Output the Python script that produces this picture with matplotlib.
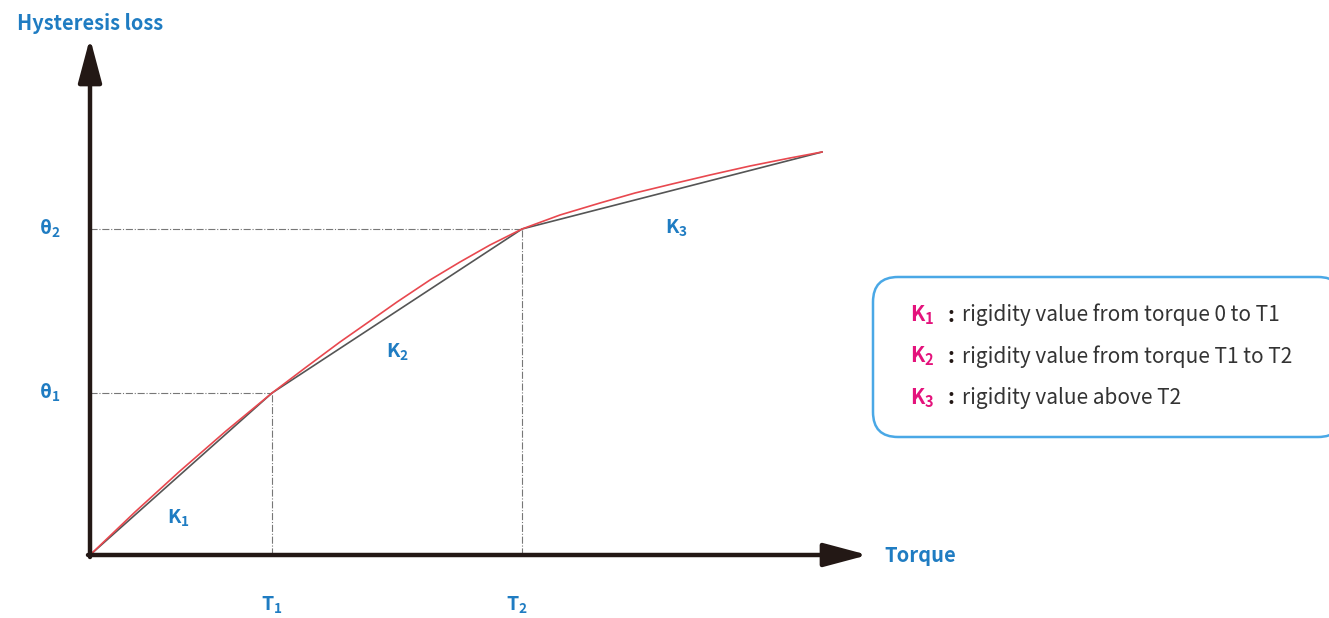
import matplotlib.pyplot as plt
from matplotlib.patches import FancyBboxPatch

plt.rcParams['font.family'] = ['Noto Sans CJK JP', 'DejaVu Sans']
plt.rcParams['mathtext.fontset'] = 'custom'
plt.rcParams['mathtext.rm'] = 'Noto Sans CJK JP'
plt.rcParams['mathtext.bf'] = 'Noto Sans CJK JP:bold'

# break points of the piecewise rigidity line (arbitrary units)
torque_pts = [0, 182, 432, 732]
angle_pts = [0, 162, 326, 403]

# measured curve (red), slightly above the linear segments
curve_t = [0, 45, 90, 136, 182, 215, 250, 280, 307, 340, 370, 400, 432, 470, 510, 545,
           582, 620, 660, 700, 732]
curve_a = [0, 43, 84, 124, 162, 187, 213, 234, 253, 275, 293, 310, 326, 340, 352, 362,
           371, 380, 389, 397, 403]

tick_labels_x = [r'$\mathbf{T}_{\mathbf{1}}$', r'$\mathbf{T}_{\mathbf{2}}$']
tick_labels_y = [r'$\mathbf{θ}_{\mathbf{1}}$', r'$\mathbf{θ}_{\mathbf{2}}$']
k_labels = [r'$\mathbf{K}_{\mathbf{1}}$', r'$\mathbf{K}_{\mathbf{2}}$', r'$\mathbf{K}_{\mathbf{3}}$']
legend_text = ['rigidity value from torque 0 to T1',
               'rigidity value from torque T1 to T2',
               'rigidity value above T2']

blue = '#1f7cc2'
pink = '#e4137c'
dark = '#231815'

fig = plt.figure(figsize=(13.29, 6.18), dpi=100)
ax = fig.add_axes([0, 0, 1, 1])
ax.set_xlim(-90, 1239)
ax.set_ylim(-63, 555)
ax.axis('off')

# axes arrows
arrow = dict(arrowstyle='-|>,head_length=0.9,head_width=0.24', lw=3.2, color=dark,
             mutation_scale=30, shrinkA=0, shrinkB=0)
ax.annotate('', xy=(0, 517), xytext=(0, -2), arrowprops=arrow)
ax.annotate('', xy=(778, 0), xytext=(-2, 0), arrowprops=arrow)

# guide lines
for t, a in zip(torque_pts[1:3], angle_pts[1:3]):
    ax.plot([0, t], [a, a], ls='-.', color='#777777', lw=0.8)
    ax.plot([t, t], [0, a], ls='-.', color='#777777', lw=0.8)

ax.plot(torque_pts, angle_pts, color='#555555', lw=1.2)
ax.plot(curve_t, curve_a, color='#e8484f', lw=1.2)

# labels
ax.text(-73, 532, 'Hysteresis loss', color=blue, fontsize=14.4, fontweight='bold',
        ha='left', va='center')
ax.text(794, 0, 'Torque', color=blue, fontsize=14.5, fontweight='bold', ha='left', va='center')
for t, lab, dx in zip(torque_pts[1:3], tick_labels_x, [0, -5]):
    ax.text(t + dx, -50, lab, color=blue, fontsize=14, ha='center', va='center')
for a, lab in zip(angle_pts[1:3], tick_labels_y):
    ax.text(-40, a, lab, color=blue, fontsize=14, ha='center', va='center')
for (x, y), lab in zip([(88, 37), (307, 203), (586, 327)], k_labels):
    ax.text(x, y, lab, color=blue, fontsize=14, ha='center', va='center')

# legend box
box = FancyBboxPatch((783, 118), 470, 160, boxstyle='round,pad=0,rounding_size=25',
                     fc='white', ec='#4aa8e6', lw=1.8, clip_on=False)
ax.add_patch(box)
for i, txt in enumerate(legend_text):
    y = 240 - 41.5 * i
    ax.text(832, y, k_labels[i], color=pink, fontsize=15, ha='center', va='center')
    ax.text(861, y, ':', color=dark, fontsize=15, fontweight='bold', ha='center', va='center')
    ax.text(872, y, txt, color='#333333', fontsize=15, ha='left', va='center')

fig.savefig('out.png', dpi=100)
